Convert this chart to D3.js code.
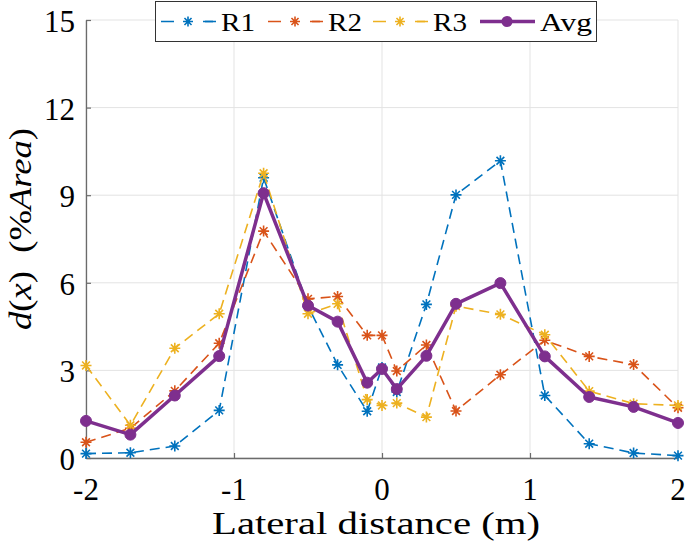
<!DOCTYPE html>
<html>
<head>
<meta charset="utf-8">
<script src="https://cdn.jsdelivr.net/npm/d3@7"></script>
</head>
<body style="margin:0">
<svg id="chart" width="685" height="548"></svg>
<script>
// ---- data ----
const xPos = [-2, -1.7, -1.4, -1.1, -0.8, -0.5, -0.3, -0.1, 0, 0.1, 0.3, 0.5, 0.8, 1.1, 1.4, 1.7, 2];
const r1  = [0.15, 0.18, 0.41, 1.63, 9.60, 5.20, 3.19, 1.60, 3.10, 2.26, 5.26, 9.01, 10.18, 2.14, 0.49, 0.17, 0.08];
const r2  = [0.54, 1.02, 2.30, 3.93, 7.77, 5.45, 5.53, 4.20, 4.20, 2.98, 3.87, 1.61, 2.85, 4.03, 3.48, 3.20, 1.72];
const r3  = [3.17, 1.12, 3.76, 4.94, 9.75, 4.94, 5.28, 2.00, 1.80, 1.88, 1.40, 5.20, 4.92, 4.22, 2.29, 1.86, 1.80];
const avg = [1.27, 0.80, 2.14, 3.49, 9.07, 5.22, 4.67, 2.58, 3.05, 2.36, 3.50, 5.28, 5.99, 3.48, 2.09, 1.75, 1.20];
const seriesNames = ["R1", "R2", "R3", "Avg"];
const xTicks = [-2, -1, 0, 1, 2];
const yTicks = [0, 3, 6, 9, 12, 15];

// ---- layout ----
const FONT = "'Liberation Serif'";
const W = 685, H = 548;
const m = { left: 86, right: 7, top: 20, bottom: 90 };
const svg = d3.select("#chart");
const x = d3.scaleLinear().domain([-2, 2]).range([m.left, W - m.right]);
const y = d3.scaleLinear().domain([0, 15]).range([H - m.bottom, m.top]);

const colors = { R1: "#0072BD", R2: "#D95319", R3: "#EDB120", Avg: "#7E2F8E" };
const values = { R1: r1, R2: r2, R3: r3, Avg: avg };

// grid
const grid = svg.append("g");
grid.selectAll("line.gx").data(xTicks).join("line")
  .attr("x1", d => x(d)).attr("x2", d => x(d))
  .attr("y1", y(0)).attr("y2", y(15))
  .attr("stroke", "#e3e3e3").attr("stroke-width", 1);
grid.selectAll("line.gy").data(yTicks).join("line")
  .attr("y1", d => y(d)).attr("y2", d => y(d))
  .attr("x1", x(-2)).attr("x2", x(2))
  .attr("stroke", "#e3e3e3").attr("stroke-width", 1);

// axes
const xAxis = svg.append("g").attr("transform", `translate(0,${y(0)})`)
  .call(d3.axisBottom(x).tickValues(xTicks).tickSizeInner(-5).tickSizeOuter(0).tickFormat(""));
const yAxis = svg.append("g").attr("transform", `translate(${x(-2)},0)`)
  .call(d3.axisLeft(y).tickValues(yTicks).tickSizeInner(-5).tickSizeOuter(0).tickFormat(""));
[xAxis, yAxis].forEach(a => {
  a.attr("font-family", null).attr("font-size", null);
  a.selectAll(".tick text").remove();
  a.select(".domain").attr("stroke", "#6b6b6b").attr("stroke-width", 1.3);
  a.selectAll(".tick line").attr("stroke", "#6b6b6b").attr("stroke-width", 1.2);
});

const labels = svg.append("g");
labels.selectAll("text.xt").data(xTicks).join("text")
  .attr("x", d => x(d)).attr("y", 500)
  .attr("text-anchor", "middle")
  .attr("font-family", FONT).attr("font-size", 31)
  .text(d => String(d));
labels.selectAll("text.yt").data(yTicks).join("text")
  .attr("x", 75).attr("y", d => y(d) + 12)
  .attr("text-anchor", "end")
  .attr("font-family", FONT).attr("font-size", 31)
  .text(d => String(d));

// asterisk marker path
function star(r) {
  const d = r * Math.SQRT1_2;
  return `M${-r},0L${r},0M0,${-r}L0,${r}M${-d},${-d}L${d},${d}M${-d},${d}L${d},${-d}`;
}

const line = d3.line().x((d, i) => x(xPos[i])).y(d => y(d));

["R1", "R2", "R3"].forEach(name => {
  const g = svg.append("g");
  g.append("path").datum(values[name]).attr("d", line)
    .attr("fill", "none").attr("stroke", colors[name]).attr("stroke-width", 1.6)
    .attr("stroke-dasharray", "10,6");
  g.selectAll("path.mk").data(values[name]).join("path")
    .attr("transform", (d, i) => `translate(${x(xPos[i])},${y(d)})`)
    .attr("d", star(5.5)).attr("fill", "none")
    .attr("stroke", colors[name]).attr("stroke-width", 1.6);
});
{
  const g = svg.append("g");
  g.append("path").datum(avg).attr("d", line)
    .attr("fill", "none").attr("stroke", colors.Avg).attr("stroke-width", 3.5)
    .attr("stroke-linejoin", "round");
  g.selectAll("circle").data(avg).join("circle")
    .attr("cx", (d, i) => x(xPos[i])).attr("cy", d => y(d)).attr("r", 5.5)
    .attr("fill", colors.Avg).attr("stroke", colors.Avg).attr("stroke-width", 1);
}

// axis titles
svg.append("text")
  .attr("x", 376).attr("y", 534)
  .attr("text-anchor", "middle")
  .attr("font-family", FONT).attr("font-size", 31)
  .attr("textLength", 328).attr("lengthAdjust", "spacingAndGlyphs")
  .text("Lateral distance (m)");

const yl = svg.append("text")
  .attr("transform", "translate(31,229) rotate(-90)")
  .attr("text-anchor", "middle")
  .attr("font-family", FONT).attr("font-size", 31)
  .attr("textLength", 202).attr("lengthAdjust", "spacingAndGlyphs");
[["d", true], ["(", false], ["x", true], [")", false], ["\u00a0\u00a0(%", false], ["Area", true], [")", false]]
  .forEach(([t, it]) => yl.append("tspan").attr("font-style", it ? "italic" : "normal").text(t));

// legend
const leg = svg.append("g");
leg.append("rect").attr("x", 155.5).attr("y", 1.5).attr("width", 441).attr("height", 40)
  .attr("fill", "#fff").attr("stroke", "#333").attr("stroke-width", 1);
const legX = [161, 268, 373, 480];
seriesNames.forEach((name, i) => {
  const g = leg.append("g").attr("transform", `translate(${legX[i]},21.5)`);
  const dashed = name !== "Avg";
  g.append("line").attr("x1", 0).attr("x2", 55).attr("y1", 0).attr("y2", 0)
    .attr("stroke", colors[name]).attr("stroke-width", dashed ? 1.6 : 3.5)
    .attr("stroke-dasharray", dashed ? "13,29" : null);
  if (dashed) {
    g.append("line").attr("x1", 44).attr("x2", 52).attr("y1", 0).attr("y2", 0)
      .attr("stroke", colors[name]).attr("stroke-width", 1.6);
    g.append("path").attr("d", star(5)).attr("transform", "translate(27,0)")
      .attr("fill", "none").attr("stroke", colors[name]).attr("stroke-width", 1.6);
  } else {
    g.append("circle").attr("cx", 27).attr("cy", 0).attr("r", 5.5).attr("fill", colors[name]);
  }
});
leg.selectAll("text").data(seriesNames).join("text")
  .attr("x", (d, i) => legX[i] + 60).attr("y", 30.5)
  .attr("font-family", FONT).attr("font-size", 26)
  .attr("textLength", d => d === "Avg" ? 52 : 34).attr("lengthAdjust", "spacingAndGlyphs")
  .text(d => d);
</script>
</body>
</html>
